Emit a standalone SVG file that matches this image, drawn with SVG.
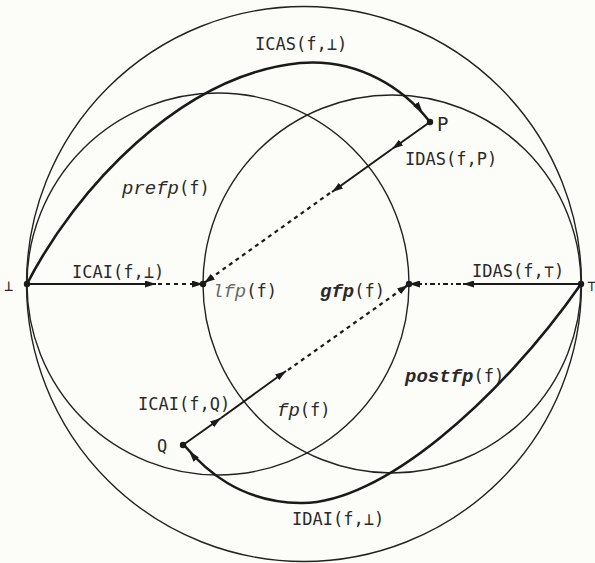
<svg xmlns="http://www.w3.org/2000/svg" width="595" height="563" viewBox="0 0 595 563">
<style>
.bg{fill:#fcfcf8}
.circ{fill:none;stroke:#222;stroke-width:1.4}
.thick{fill:none;stroke:#1a1a1a;stroke-width:2.6}
.arr{fill:none;stroke:#1a1a1a;stroke-width:2}
.dash{fill:none;stroke:#1a1a1a;stroke-width:2.2;stroke-dasharray:4 4}
.dashdot{fill:none;stroke:#1a1a1a;stroke-width:2.2;stroke-dasharray:5 3 2 3}
.dot{fill:#1a1a1a}
text{font-family:"DejaVu Sans Mono","Liberation Mono",monospace;font-size:17px;fill:#2a2a2a}
.it{font-family:"Liberation Mono","DejaVu Sans Mono",monospace;font-style:italic;font-size:19px}
.bold{font-weight:bold}
</style>
<defs>
<marker id="ah" viewBox="0 0 11 7" refX="11" refY="3.5" markerWidth="11" markerHeight="7" markerUnits="userSpaceOnUse" orient="auto"><path d="M0,0 L11,3.5 L0,7 z" fill="#1a1a1a"/></marker>
<marker id="ahP" viewBox="0 0 23 7" refX="23" refY="3.5" markerWidth="23" markerHeight="7" markerUnits="userSpaceOnUse" orient="auto"><path d="M0,0 L11,3.5 L0,7 z" fill="#1a1a1a"/></marker>
<marker id="ahQ" viewBox="0 0 19 7" refX="19" refY="3.5" markerWidth="19" markerHeight="7" markerUnits="userSpaceOnUse" orient="auto"><path d="M0,0 L11,3.5 L0,7 z" fill="#1a1a1a"/></marker>
</defs>
<rect class="bg" x="0" y="0" width="595" height="563"/>

<g id="region-all">
<circle class="circ" cx="304" cy="284" r="277.5"/>
</g>
<g id="region-prefp">
<circle class="circ" cx="218" cy="284" r="191"/>
<text x="122" y="194"><tspan class="it">prefp</tspan>(f)</text>
</g>
<g id="region-postfp">
<circle class="circ" cx="392" cy="284" r="189"/>
<text x="405" y="382"><tspan class="it bold">postfp</tspan>(f)</text>
</g>
<g id="region-fp">
<text x="277" y="416"><tspan class="it">fp</tspan>(f)</text>
</g>

<g id="connectors">
<path class="thick" d="M27,284 C75,190 180,75 300,63 C360,58 405,90 430,122" marker-end="url(#ahP)"/>
<path class="thick" d="M581,284 C500,400 380,505 300,503 C240,502 205,470 184,445" marker-end="url(#ahQ)"/>

<line class="arr" x1="27" y1="284" x2="156" y2="284" marker-end="url(#ah)"/>
<line class="dash" x1="158" y1="284" x2="203" y2="284" marker-end="url(#ah)"/>

<line class="arr" x1="581" y1="284" x2="463" y2="284" marker-end="url(#ah)"/>
<line class="dashdot" x1="461" y1="284" x2="409" y2="284" marker-end="url(#ah)"/>

<line class="arr" x1="430" y1="122" x2="392" y2="149" marker-end="url(#ah)"/>
<line class="arr" x1="392" y1="149" x2="332" y2="192" marker-end="url(#ah)"/>
<line class="dash" x1="330" y1="193" x2="204" y2="283" marker-end="url(#ah)"/>

<line class="arr" x1="183" y1="445" x2="221" y2="418" marker-end="url(#ah)"/>
<line class="arr" x1="221" y1="418" x2="286" y2="371" marker-end="url(#ah)"/>
<line class="dash" x1="288" y1="370" x2="408" y2="285" marker-end="url(#ah)"/>

<text x="255" y="50">ICAS(f,⊥)</text>
<text x="405" y="165">IDAS(f,P)</text>
<text x="72" y="278">ICAI(f,⊥)</text>
<text x="472" y="277">IDAS(f,⊤)</text>
<text x="138" y="410">ICAI(f,Q)</text>
<text x="292" y="525">IDAI(f,⊥)</text>
</g>

<g id="node-bottom">
<circle class="dot" cx="27" cy="284" r="3.2"/>
<text x="4" y="291" style="font-size:15px">⊥</text>
</g>
<g id="node-top">
<circle class="dot" cx="581" cy="284" r="3.2"/>
<text x="587" y="291" style="font-size:15px">⊤</text>
</g>
<g id="node-lfp">
<circle class="dot" cx="203" cy="284" r="3.2"/>
<text x="212" y="297"><tspan class="it" style="fill:#6a6a6a">lfp</tspan>(f)</text>
</g>
<g id="node-gfp">
<circle class="dot" cx="409" cy="284" r="3.2"/>
<text x="320" y="297"><tspan class="it bold">gfp</tspan>(f)</text>
</g>
<g id="node-P">
<circle class="dot" cx="430" cy="122" r="3.2"/>
<text x="437" y="131" style="font-size:19px">P</text>
</g>
<g id="node-Q">
<circle class="dot" cx="183" cy="445" r="3.2"/>
<text x="157" y="452">Q</text>
</g>
</svg>
